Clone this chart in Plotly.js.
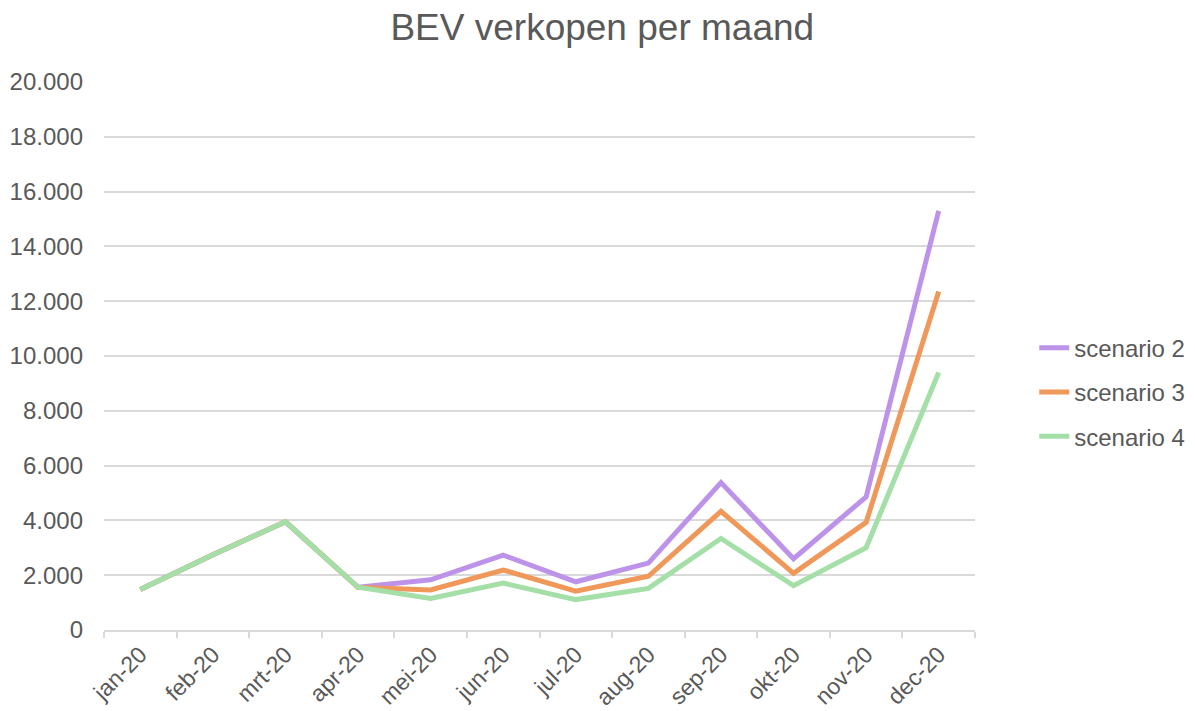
<!DOCTYPE html>
<html>
<head>
<meta charset="utf-8">
<script src="https://cdn.plot.ly/plotly-3.0.1.min.js"></script>
<style>html,body{margin:0;padding:0;background:#fff;}#chart{width:1195px;height:711px;}</style>
</head>
<body>
<div id="chart"></div>
<script>
const months = ["jan-20","feb-20","mrt-20","apr-20","mei-20","jun-20","jul-20","aug-20","sep-20","okt-20","nov-20","dec-20"];
const scenario2 = [1480, 2750, 3950, 1560, 1830, 2730, 1760, 2440, 5380, 2600, 4860, 15300];
const scenario3 = [1480, 2750, 3950, 1560, 1460, 2190, 1420, 1960, 4330, 2070, 3930, 12350];
const scenario4 = [1480, 2750, 3950, 1560, 1150, 1710, 1110, 1520, 3340, 1620, 3000, 9400];
const seriesNames = ["scenario 2","scenario 3","scenario 4"];
const colors = ["#bd93e9","#f0975a","#a3dfa6"];

const allSeries = [scenario2, scenario3, scenario4];
const traces = allSeries.map((vals, i) => ({
  x: months, y: vals, type: "scatter", mode: "lines", name: seriesNames[i],
  legendgroup: "g" + i,
  line: {color: colors[i], width: 5, shape: "linear"}
}));

const layout = {
  width: 1195, height: 711,
  paper_bgcolor: "#fff", plot_bgcolor: "#fff",
  separators: ",.",
  font: {family: "Liberation Sans, Arial, sans-serif", color: "#595959", size: 24},
  title: {text: "BEV verkopen per maand", font: {size: 37, color: "#595959"}, x: 0.504, xanchor: "center", y: 0.962, yanchor: "middle"},
  margin: {l: 104, r: 220, t: 82, b: 81, autoexpand: false},
  xaxis: {
    type: "category", range: [-0.5, 11.5], tickson: "boundaries",
    showgrid: false, showline: true, linecolor: "#d9d9d9", linewidth: 2,
    ticks: "outside", ticklen: 6, tickcolor: "#d9d9d9", tickwidth: 2,
    tickangle: -45, tickfont: {size: 23, color: "#595959"}, fixedrange: true
  },
  yaxis: {
    range: [0, 20000], dtick: 2000, tickformat: ",d",
    showgrid: true, gridcolor: "#d9d9d9", gridwidth: 2,
    zeroline: false, showline: false, ticks: "", ticklabelstandoff: 20,
    tickfont: {size: 24, color: "#595959"}, fixedrange: true
  },
  showlegend: true,
  legend: {
    x: 1.068, xanchor: "left", y: 0.434, yanchor: "middle",
    traceorder: "grouped", tracegroupgap: 10,
    font: {size: 24, color: "#595959"}, itemwidth: 30
  }
};
Plotly.newPlot("chart", traces, layout, {displayModeBar: false, staticPlot: true});
</script>
</body>
</html>
